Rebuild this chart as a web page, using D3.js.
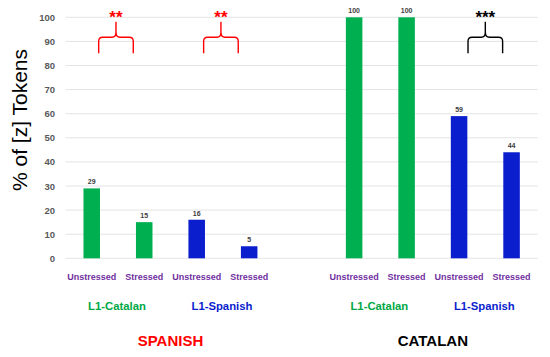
<!DOCTYPE html>
<html>
<head>
<meta charset="utf-8">
<script src="https://cdn.jsdelivr.net/npm/d3@7"></script>
<style>
  html, body { margin: 0; padding: 0; background: #fff; }
  svg { display: block; }
</style>
</head>
<body>
<svg id="chart" width="550" height="357"></svg>
<script>
// ---- data ----
const barIds      = ["es-cat-u","es-cat-s","es-spa-u","es-spa-s","ca-cat-u","ca-cat-s","ca-spa-u","ca-spa-s"];
const categories  = ["Unstressed","Stressed","Unstressed","Stressed","Unstressed","Stressed","Unstressed","Stressed"];
const groupOfBar  = ["L1-Catalan","L1-Catalan","L1-Spanish","L1-Spanish","L1-Catalan","L1-Catalan","L1-Spanish","L1-Spanish"];
const values      = [29, 15, 16, 5, 100, 100, 59, 44];
const groupLabels = ["L1-Catalan","L1-Spanish","L1-Catalan","L1-Spanish"];
const groupBars   = [[0,1],[2,3],[4,5],[6,7]];
const languages   = ["SPANISH","CATALAN"];
const languageGroups = [[0,3],[4,7]];
const sigMarks    = ["**","**","***"];
const sigPairs    = [[0,1],[2,3],[6,7]];
const yTicks      = [0,10,20,30,40,50,60,70,80,90,100];
const yTitle      = "% of [z] Tokens";

// ---- styles ----
const green = "#00B050", blue = "#0B1ECE", purple = "#7030A0", red = "#FF0000";
const groupColor = g => g === "L1-Catalan" ? green : blue;
const langColor = [red, "#000000"];
const sigColor = [red, red, "#000000"];

const svg = d3.select("#chart");

// slots: 4 bars, 1 empty slot, 4 bars
const slots = [...barIds.slice(0,4), "gap", ...barIds.slice(4)];
const x = d3.scaleBand().domain(slots).range([65.5, 537.8]);
const barW = x.bandwidth() * 0.315;
const cx = i => x(barIds[i]) + x.bandwidth() / 2;

const y = d3.scaleLinear().domain([0, 100]).range([258.3, 17.3]);

// gridlines
svg.append("g").selectAll("line").data(yTicks).join("line")
  .attr("x1", 65.5).attr("x2", 537.8)
  .attr("y1", d => y(d)).attr("y2", d => y(d))
  .attr("stroke", "#e4e4e4").attr("stroke-width", 1);

// y axis labels
const yAxis = d3.axisLeft(y).tickValues(yTicks).tickSize(0).tickPadding(0);
const ya = svg.append("g").attr("transform", "translate(55,0)").call(yAxis);
ya.select(".domain").remove();
ya.selectAll("text")
  .attr("font-family", "Liberation Sans, Arial, sans-serif")
  .attr("font-size", 9.5).attr("font-weight", "bold").attr("fill", "#595959");

// y title
svg.append("text")
  .attr("transform", `translate(27,120) rotate(-90)`)
  .attr("text-anchor", "middle")
  .attr("font-family", "Liberation Sans, Arial, sans-serif")
  .attr("font-size", 21).attr("fill", "#000")
  .text(yTitle);

// bars
svg.append("g").selectAll("rect").data(values).join("rect")
  .attr("x", (d, i) => cx(i) - barW / 2)
  .attr("width", barW)
  .attr("y", d => y(d))
  .attr("height", d => y(0) - y(d))
  .attr("fill", (d, i) => groupColor(groupOfBar[i]));

// value labels
svg.append("g").selectAll("text").data(values).join("text")
  .attr("x", (d, i) => cx(i))
  .attr("y", d => y(d) - 4)
  .attr("text-anchor", "middle")
  .attr("font-family", "Liberation Sans, Arial, sans-serif")
  .attr("font-size", 7).attr("font-weight", "bold").attr("fill", "#404040")
  .text(d => d);

// category labels
svg.append("g").selectAll("text").data(categories).join("text")
  .attr("x", (d, i) => cx(i))
  .attr("y", 280)
  .attr("text-anchor", "middle")
  .attr("font-family", "Liberation Sans, Arial, sans-serif")
  .attr("font-size", 9).attr("font-weight", "bold").attr("fill", purple)
  .text(d => d);

// group labels
svg.append("g").selectAll("text").data(groupLabels).join("text")
  .attr("x", (d, i) => (cx(groupBars[i][0]) + cx(groupBars[i][1])) / 2 - 1)
  .attr("y", 310)
  .attr("text-anchor", "middle")
  .attr("font-family", "Liberation Sans, Arial, sans-serif")
  .attr("font-size", 11.3).attr("font-weight", "bold")
  .attr("fill", d => d === "L1-Catalan" ? "#00A846" : blue)
  .text(d => d);

// language labels
svg.append("g").selectAll("text").data(languages).join("text")
  .attr("x", (d, i) => (cx(languageGroups[i][0]) + cx(languageGroups[i][1])) / 2)
  .attr("y", 346)
  .attr("text-anchor", "middle")
  .attr("font-family", "Liberation Sans, Arial, sans-serif")
  .attr("font-size", 15).attr("font-weight", "bold")
  .attr("fill", (d, i) => langColor[i])
  .text(d => d);

// significance braces
function bracePath(mid, half, yTop, yMid, yBot) {
  const p = d3.path();
  const r = 4;
  p.moveTo(mid - half, yBot);
  p.lineTo(mid - half, yMid + r);
  p.quadraticCurveTo(mid - half, yMid, mid - half + r, yMid);
  p.lineTo(mid - 4, yMid);
  p.quadraticCurveTo(mid, yMid, mid, yMid - 5);
  p.lineTo(mid, yTop);
  p.moveTo(mid, yMid - 5);
  p.quadraticCurveTo(mid, yMid, mid + 4, yMid);
  p.lineTo(mid + half - r, yMid);
  p.quadraticCurveTo(mid + half, yMid, mid + half, yMid + r);
  p.lineTo(mid + half, yBot);
  return p.toString();
}
const braces = svg.append("g");
sigPairs.forEach((pr, i) => {
  const mid = (cx(pr[0]) + cx(pr[1])) / 2 - (i < 2 ? 2 : 0);
  braces.append("path")
    .attr("d", bracePath(mid, 17.3, y(98.2), y(91.7), y(85.1)))
    .attr("fill", "none").attr("stroke", sigColor[i]).attr("stroke-width", 1.4);
  braces.append("text")
    .attr("x", mid).attr("y", 23)
    .attr("text-anchor", "middle")
    .attr("font-family", "Liberation Sans, Arial, sans-serif")
    .attr("font-size", 17).attr("font-weight", "bold")
    .attr("fill", sigColor[i])
    .text(sigMarks[i]);
});
</script>
</body>
</html>
